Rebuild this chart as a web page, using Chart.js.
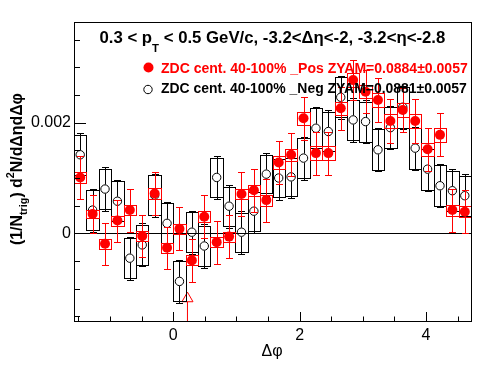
<!DOCTYPE html>
<html>
<head>
<meta charset="utf-8">
<script src="https://cdn.jsdelivr.net/npm/chart.js@4.4.1/dist/chart.umd.min.js"></script>
<style>
html, body { margin: 0; padding: 0; background: #fff; }
canvas { display: block; }
</style>
</head>
<body>
<canvas id="dphiChart" width="496" height="374"></canvas>
<script>
// bin centres in delta-phi (32 bins, -pi/2 .. 3pi/2)
var dphi = [-1.4726, -1.2763, -1.0799, -0.8836, -0.6872, -0.4909, -0.2945, -0.0982,
             0.0982,  0.2945,  0.4909,  0.6872,  0.8836,  1.0799,  1.2763,  1.4726,
             1.6690,  1.8653,  2.0617,  2.2580,  2.4544,  2.6507,  2.8471,  3.0434,
             3.2398,  3.4361,  3.6325,  3.8288,  4.0252,  4.2215,  4.4179,  4.6142];
var binWidth = Math.PI / 16;

// ZDC cent. 40-100% _Pos (red, filled)
var posY = [0.00101, 0.00035, -0.00019, 0.00023, 0.00042, -0.00005, 0.00072, -0.00026,
            0.00008, -0.00049, 0.00030, -0.00016, -0.00006, 0.00071, 0.00078, 0.00060,
            0.00128, 0.00142, 0.00208, 0.00145, 0.00145, 0.00226, 0.00277, 0.00256,
            0.00241, 0.00203, 0.00223, 0.00203, 0.00152, 0.00178, 0.00042, 0.00039];
var posStat = [0.00039, 0.00034, 0.00038, 0.00038, 0.00039, 0.00038, 0.00039, 0.00038,
               0.00039, 0.00039, 0.00039, 0.00039, 0.00039, 0.00039, 0.00039, 0.00039,
               0.00039, 0.00039, 0.00039, 0.00039, 0.00039, 0.00039, 0.00036, 0.00039,
               0.00039, 0.00039, 0.00039, 0.00039, 0.00039, 0.00039, 0.00039, 0.00039];
var posSys = [0.00010, 0.00008, 0.00009, 0.00009, 0.00009, 0.00009, 0.00010, 0.00009,
              0.00009, 0.00009, 0.00010, 0.00009, 0.00009, 0.00009, 0.00010, 0.00010,
              0.00011, 0.00011, 0.00012, 0.00012, 0.00012, 0.00012, 0.00012, 0.00012,
              0.00012, 0.00012, 0.00012, 0.00012, 0.00012, 0.00012, 0.00010, 0.00010];

// ZDC cent. 40-100% _Neg (black, open)
var negY = [0.00142, 0.00042, 0.00080, 0.00058, -0.00045, -0.00021, 0.00069, 0.00018,
            -0.00087, 0.00002, -0.00023, 0.00101, 0.00049, 0.00002, 0.00040, 0.00107,
            0.00100, 0.00102, 0.00136, 0.00190, 0.00184, 0.00246, 0.00205, 0.00202,
            0.00151, 0.00191, 0.00228, 0.00154, 0.00116, 0.00086, 0.00077, 0.00068];
var negStat = [0.00039, 0.00039, 0.00039, 0.00039, 0.00039, 0.00039, 0.00039, 0.00039,
               0.00039, 0.00039, 0.00039, 0.00039, 0.00039, 0.00039, 0.00039, 0.00039,
               0.00039, 0.00039, 0.00039, 0.00039, 0.00039, 0.00039, 0.00039, 0.00039,
               0.00039, 0.00039, 0.00039, 0.00039, 0.00039, 0.00039, 0.00039, 0.00039];
var negSys = [0.00036, 0.00036, 0.00036, 0.00036, 0.00036, 0.00036, 0.00036, 0.00036,
              0.00036, 0.00036, 0.00036, 0.00035, 0.00035, 0.00035, 0.00035, 0.00035,
              0.00035, 0.00035, 0.00036, 0.00036, 0.00036, 0.00036, 0.00036, 0.00036,
              0.00037, 0.00037, 0.00037, 0.00037, 0.00037, 0.00037, 0.00036, 0.00036];

// red arrow marker near dphi ~ 0.22
var arrowX = [0.225];
var arrowHead = [-0.00118];
var arrowTail = [-0.00124];

// axes
var xMin = -Math.PI / 2, xMax = 3 * Math.PI / 2;
var yMin = -0.001586, yMax = 0.003821;
var xMajor = [0, 2, 4];
var xMinor = [-1.5, -1, -0.5, 0.5, 1, 1.5, 2.5, 3, 3.5, 4.5];
var yMajor = [0, 0.002];
var yMinor = [-0.0015, -0.001, -0.0005, 0.0005, 0.001, 0.0015, 0.0025, 0.003, 0.0035];

var RED = 'rgb(255,0,0)';
var FONT = '"Liberation Sans", Arial, Helvetica, sans-serif';

function toPoints(xs, ys) {
    return xs.map(function (x, i) { return { x: x, y: ys[i] }; });
}

function drawSysBoxes(chart, ys, sys, color) {
    var xa = chart.scales.x, ya = chart.scales.y, ctx = chart.ctx, a = chart.chartArea;
    ctx.save();
    ctx.beginPath();
    ctx.rect(a.left, a.top, a.right - a.left, a.bottom - a.top);
    ctx.clip();
    ctx.strokeStyle = color;
    ctx.lineWidth = 1;
    for (var i = 0; i < dphi.length; i++) {
        var x0 = Math.round(xa.getPixelForValue(dphi[i] - binWidth / 2)) + 0.5;
        var x1 = Math.round(xa.getPixelForValue(dphi[i] + binWidth / 2)) + 0.5;
        var yt = Math.round(ya.getPixelForValue(ys[i] + sys[i])) + 0.5;
        var yb = Math.round(ya.getPixelForValue(ys[i] - sys[i])) + 0.5;
        ctx.strokeRect(x0, yt, x1 - x0, yb - yt);
    }
    ctx.restore();
}

function drawErrBars(chart, ys, err, color, gap) {
    var xa = chart.scales.x, ya = chart.scales.y, ctx = chart.ctx;
    ctx.save();
    ctx.strokeStyle = color;
    ctx.lineWidth = 1;
    ctx.beginPath();
    for (var i = 0; i < dphi.length; i++) {
        var px = Math.round(xa.getPixelForValue(dphi[i])) + 0.5;
        var py = ya.getPixelForValue(ys[i]);
        var yt = Math.round(ya.getPixelForValue(ys[i] + err[i])) + 0.5;
        var yb = Math.round(ya.getPixelForValue(ys[i] - err[i])) + 0.5;
        ctx.moveTo(px, yt); ctx.lineTo(px, py - gap);
        ctx.moveTo(px, py + gap); ctx.lineTo(px, yb);
        ctx.moveTo(px - 3.5, yt); ctx.lineTo(px + 3.5, yt);
        ctx.moveTo(px - 3.5, yb); ctx.lineTo(px + 3.5, yb);
    }
    ctx.stroke();
    ctx.restore();
}

// text with sub/superscripts, squeezed to a target width
function drawRich(ctx, parts, x, y, size, weight, color, targetW) {
    var w = 0;
    parts.forEach(function (p) {
        ctx.font = weight + ' ' + (size * p.s) + 'px ' + FONT;
        w += ctx.measureText(p.t).width;
    });
    var k = targetW ? targetW / w : 1;
    var cx = x;
    ctx.fillStyle = color;
    ctx.textAlign = 'left';
    ctx.textBaseline = 'alphabetic';
    parts.forEach(function (p) {
        ctx.font = weight + ' ' + (size * k * p.s) + 'px ' + FONT;
        ctx.fillText(p.t, cx, y + p.dy * k);
        cx += ctx.measureText(p.t).width;
    });
}

var rootStyle = {
    id: 'rootStyle',
    beforeDraw: function (chart) {
        var ctx = chart.ctx;
        ctx.save();
        ctx.fillStyle = '#fff';
        ctx.fillRect(0, 0, chart.width, chart.height);
        ctx.restore();
    },
    beforeDatasetsDraw: function (chart) {
        var ctx = chart.ctx, a = chart.chartArea;
        var y0 = Math.round(chart.scales.y.getPixelForValue(0)) + 0.5;
        ctx.save();
        ctx.strokeStyle = '#000';
        ctx.lineWidth = 1;
        ctx.beginPath();
        ctx.moveTo(a.left, y0);
        ctx.lineTo(a.right, y0);
        ctx.stroke();
        ctx.restore();
    },
    beforeDatasetDraw: function (chart, args) {
        if (args.index === 1) {
            drawSysBoxes(chart, negY, negSys, '#000');
            drawErrBars(chart, negY, negStat, '#000', 4.5);
        } else if (args.index === 0) {
            drawSysBoxes(chart, posY, posSys, RED);
            drawErrBars(chart, posY, posStat, RED, 4.5);
        }
    },
    afterDraw: function (chart) {
        var ctx = chart.ctx, a = chart.chartArea;
        var xa = chart.scales.x, ya = chart.scales.y;
        ctx.save();
        // frame
        ctx.strokeStyle = '#000';
        ctx.lineWidth = 1;
        ctx.strokeRect(a.left + 0.5, a.top + 0.5, a.right - a.left, a.bottom - a.top);
        // inward ticks
        ctx.beginPath();
        yMajor.forEach(function (v) {
            var p = Math.round(ya.getPixelForValue(v)) + 0.5;
            ctx.moveTo(a.left, p); ctx.lineTo(a.left + 12, p);
        });
        yMinor.forEach(function (v) {
            var p = Math.round(ya.getPixelForValue(v)) + 0.5;
            ctx.moveTo(a.left, p); ctx.lineTo(a.left + 6, p);
        });
        xMajor.forEach(function (v) {
            var p = Math.round(xa.getPixelForValue(v)) + 0.5;
            ctx.moveTo(p, a.bottom); ctx.lineTo(p, a.bottom - 9);
        });
        xMinor.forEach(function (v) {
            var p = Math.round(xa.getPixelForValue(v)) + 0.5;
            ctx.moveTo(p, a.bottom); ctx.lineTo(p, a.bottom - 4.5);
        });
        ctx.stroke();

        // title
        drawRich(ctx, [
            { t: '0.3 < p', s: 1, dy: 0 },
            { t: 'T', s: 0.68, dy: 9 },
            { t: ' < 0.5 GeV/c, -3.2<\u0394\u03b7<-2, -3.2<\u03b7<-2.8', s: 1, dy: 0 }
        ], 99.5, 42.7, 16, 'bold', '#000', 346);

        // legend
        ctx.fillStyle = RED;
        ctx.beginPath();
        ctx.arc(148.5, 67.5, 5, 0, Math.PI * 2);
        ctx.fill();
        ctx.strokeStyle = '#000';
        ctx.beginPath();
        ctx.arc(148, 89.5, 4.2, 0, Math.PI * 2);
        ctx.stroke();
        drawRich(ctx, [{ t: 'ZDC cent. 40-100% _Pos ZYAM=0.0884\u00b10.0057', s: 1, dy: 0 }],
            161, 72.7, 14, 'bold', RED, 307);
        drawRich(ctx, [{ t: 'ZDC cent. 40-100% _Neg ZYAM=0.0881\u00b10.0057', s: 1, dy: 0 }],
            161, 92.7, 14, 'bold', '#000', 306);

        // x title
        ctx.fillStyle = '#000';
        ctx.font = '16px ' + FONT;
        ctx.textAlign = 'center';
        ctx.textBaseline = 'alphabetic';
        ctx.fillText('\u0394\u03c6', 272, 355.5);

        // y title (rotated)
        ctx.save();
        ctx.translate(22, 245);
        ctx.rotate(-Math.PI / 2);
        drawRich(ctx, [
            { t: '(1/N', s: 1, dy: 0 },
            { t: 'trig', s: 0.68, dy: 5 },
            { t: ') d', s: 1, dy: 0 },
            { t: '2', s: 0.68, dy: -8 },
            { t: 'N/d\u0394\u03b7d\u0394\u03c6', s: 1, dy: 0 }
        ], 0, 0, 16, 'bold', '#000', 152);
        ctx.restore();

        ctx.restore();
    }
};

var ctx = document.getElementById('dphiChart').getContext('2d');

var myChart = new Chart(ctx, {
    type: 'scatter',
    data: {
        datasets: [{
            label: 'ZDC cent. 40-100% _Pos',
            data: toPoints(dphi, posY),
            pointStyle: 'circle',
            pointRadius: 5,
            pointBackgroundColor: RED,
            pointBorderColor: RED,
            pointBorderWidth: 0
        }, {
            label: 'ZDC cent. 40-100% _Neg',
            data: toPoints(dphi, negY),
            pointStyle: 'circle',
            pointRadius: 4.2,
            pointBackgroundColor: 'rgba(0,0,0,0)',
            pointBorderColor: '#000',
            pointBorderWidth: 1
        }, {
            type: 'line',
            label: 'arrow',
            data: [{ x: arrowX[0], y: yMin }, { x: arrowX[0], y: arrowTail[0] }],
            borderColor: RED,
            borderWidth: 1,
            pointRadius: 0
        }, {
            label: 'arrow head',
            data: toPoints(arrowX, arrowHead),
            pointStyle: 'triangle',
            pointRadius: 6.4,
            pointBackgroundColor: 'rgba(0,0,0,0)',
            pointBorderColor: RED,
            pointBorderWidth: 1
        }]
    },
    options: {
        responsive: false,
        animation: false,
        devicePixelRatio: 1,
        layout: { padding: { left: 0, top: 22, right: 25, bottom: 0 } },
        plugins: {
            legend: { display: false },
            tooltip: { enabled: false }
        },
        scales: {
            x: {
                type: 'linear',
                min: xMin,
                max: xMax,
                grid: { display: false, drawTicks: false },
                border: { display: false },
                afterFit: function (scale) { scale.height = 53; },
                afterBuildTicks: function (scale) {
                    scale.ticks = xMajor.map(function (v) { return { value: v }; });
                },
                ticks: {
                    autoSkip: false,
                    maxRotation: 0,
                    padding: 5,
                    color: '#000',
                    font: { family: FONT, size: 16 },
                    callback: function (v) { return String(v); }
                }
            },
            y: {
                type: 'linear',
                min: yMin,
                max: yMax,
                grid: { display: false, drawTicks: false },
                border: { display: false },
                afterFit: function (scale) { scale.width = 74; },
                afterBuildTicks: function (scale) {
                    scale.ticks = yMajor.map(function (v) { return { value: v }; });
                },
                ticks: {
                    autoSkip: false,
                    padding: 3,
                    color: '#000',
                    font: { family: FONT, size: 16 },
                    callback: function (v) { return v === 0 ? '0' : String(v); }
                }
            }
        }
    },
    plugins: [rootStyle]
});
</script>
</body>
</html>
